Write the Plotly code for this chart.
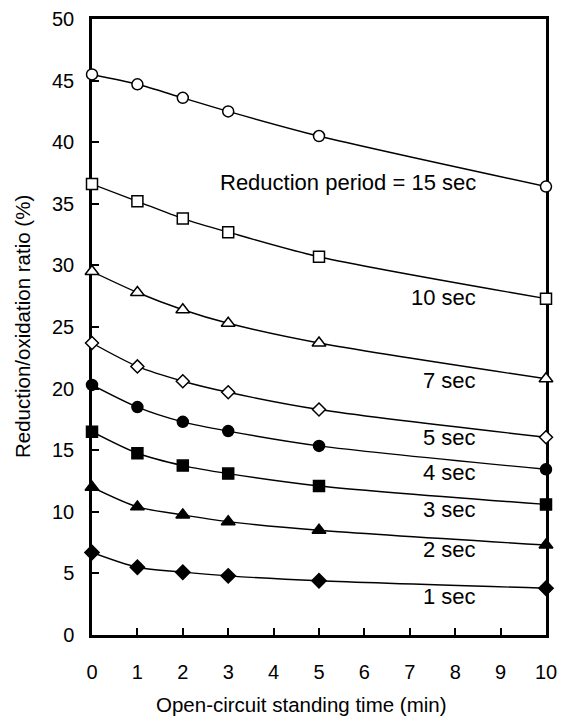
import plotly.graph_objects as go

# Data
time_min = [0, 1, 2, 3, 5, 10]
series_names = ["15 sec", "10 sec", "7 sec", "5 sec", "4 sec", "3 sec", "2 sec", "1 sec"]
ratio_15 = [45.5, 44.7, 43.6, 42.5, 40.5, 36.4]
ratio_10 = [36.6, 35.2, 33.8, 32.7, 30.7, 27.3]
ratio_7 = [29.5, 27.8, 26.4, 25.3, 23.7, 20.8]
ratio_5 = [23.7, 21.8, 20.6, 19.7, 18.3, 16.05]
ratio_4 = [20.3, 18.5, 17.3, 16.55, 15.35, 13.45]
ratio_3 = [16.5, 14.75, 13.75, 13.1, 12.1, 10.6]
ratio_2 = [12.0, 10.4, 9.75, 9.2, 8.5, 7.3]
ratio_1 = [6.7, 5.5, 5.1, 4.8, 4.4, 3.8]
all_series = [ratio_15, ratio_10, ratio_7, ratio_5, ratio_4, ratio_3, ratio_2, ratio_1]

label_texts = ["Reduction period = 15 sec", "10 sec", "7 sec", "5 sec",
               "4 sec", "3 sec", "2 sec", "1 sec"]
x_ticks = list(range(0, 11))
y_ticks = list(range(0, 51, 5))
x_title = "Open-circuit standing time (min)"
y_title = "Reduction/oxidation ratio (%)"

# Styles
symbols = ["circle-open", "square-open", "triangle-up-open", "diamond-open",
           "circle", "square", "triangle-up", "diamond"]
sizes = [11, 11, 12, 10, 11, 11, 12, 11]
label_pos_x = 8.5
label_pos_y = [36.7, 27.4, 20.65, 16.0, 13.15, 10.15, 6.9, 3.1]

FONT = "Liberation Sans, Arial, sans-serif"

fig = go.Figure()
for name, ys, sym, sz in zip(series_names, all_series, symbols, sizes):
    is_open = sym.endswith("-open")
    fig.add_trace(go.Scatter(
        x=time_min, y=ys, name=name, mode="lines+markers",
        line=dict(color="black", width=1.4, shape="spline", smoothing=0.8),
        marker=dict(
            symbol=sym.replace("-open", ""), size=sz,
            color="white" if is_open else "black",
            line=dict(color="black", width=1.5),
        ),
        cliponaxis=False,
        showlegend=False,
    ))

for txt, ly in zip(label_texts, label_pos_y):
    fig.add_annotation(x=label_pos_x, y=ly, text=txt, showarrow=False,
                       xanchor="right", yanchor="middle",
                       font=dict(family=FONT, size=22, color="black"))

# Axis titles as annotations (fixed position, no automargin)
fig.add_annotation(xref="paper", yref="paper", x=0.5, y=0, xshift=-18, yshift=-69,
                   text=x_title, showarrow=False, xanchor="center", yanchor="middle",
                   borderpad=0,
                   font=dict(family=FONT, size=20.5, color="black"))
fig.add_annotation(xref="paper", yref="paper", x=0, y=0.5, xshift=-70, yshift=0,
                   text=y_title, textangle=-90, showarrow=False,
                   xanchor="center", yanchor="middle",
                   font=dict(family=FONT, size=20.5, color="black"))

fig.update_layout(
    width=561, height=718,
    margin=dict(l=92, r=15, t=19, b=83),
    paper_bgcolor="white", plot_bgcolor="white",
    font=dict(family=FONT, size=20, color="black"),
)
fig.update_xaxes(
    range=[0, 10], tickvals=x_ticks, ticktext=[str(v) for v in x_ticks],
    showgrid=False, zeroline=False, automargin=False,
    showline=True, linecolor="black", linewidth=2.5, mirror=True,
    ticks="inside", ticklen=7, tickwidth=2, tickcolor="black",
    ticklabelstandoff=17,
    tickfont=dict(family=FONT, size=20),
    layer="below traces",
)
fig.update_yaxes(
    range=[0, 50], tickvals=y_ticks,
    showgrid=False, zeroline=False, automargin=False,
    showline=True, linecolor="black", linewidth=2.5, mirror=True,
    ticks="inside", ticklen=7, tickwidth=2, tickcolor="black",
    ticklabelstandoff=11,
    tickfont=dict(family=FONT, size=20),
    layer="below traces",
)

fig.write_html("out.html")
